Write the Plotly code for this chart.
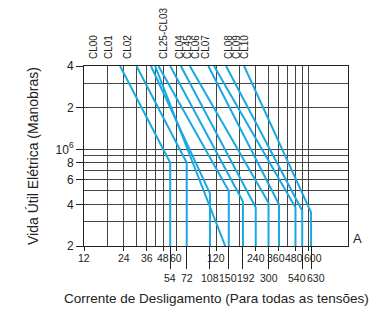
import math
import plotly.graph_objects as go

# ---- data ----
contactors = ["CL00", "CL01", "CL02", "CL25", "CL03", "CL04", "CL45", "CL06", "CL07", "CL08", "CL09", "CL10"]
top_current = [22.5, 30.0, 38.6, 41.5, 44.0, 54.0, 65.0, 76.0, 105.0, 116.0, 143.0, 196.0]   # A at 4x10^6
knee_current = [54, 72, 108, 141, 150, 192, 240, 300, 360, 480, 540, 630]
knee_life = [8e5, 8e5, 4.8e5, 2e5, 5e5, 4.2e5, 3.8e5, 4.1e5, 4.0e5, 3.8e5, 3.6e5, 3.5e5]

label_text = ["CL00", "CL01", "CL02", "CL25-CL03", "CL04", "CL45", "CL06", "CL07", "CL08", "CL09", "CL10"]

x_ticks_row1 = [12, 24, 36, 48, 60, 120, 240, 360, 480, 600]
x_ticks_row2 = [54, 72, 108, 150, 192, 300, 540, 630]
x_grid = [12, 18, 24, 30, 36, 42, 48, 60, 120, 180, 240, 300, 360, 420, 480, 540, 600]
y_ticks = [2e5, 4e5, 6e5, 8e5, 1e6, 2e6, 4e6]
y_ticktext = ["2", "4", "6", "8", "10<sup>6</sup>", "2", "4"]
y_grid = [2e5, 3e5, 4e5, 5e5, 6e5, 7e5, 8e5, 9e5, 1e6, 2e6, 3e6]

LIFE_TOP = 4e6
LIFE_BOTTOM = 2e5
X_MAX = 1200

# ---- style ----
BLUE = "#1aa8e2"
GRID = "#444444"
INK = "#222222"
FONT = "Liberation Sans, Arial, sans-serif"
TICK_FONT = 10.5
# horizontal nudges (px) so crowded tick labels sit side by side as in the original
nudge1 = {360: -2.7, 480: -1.4, 600: 5}
nudge2 = {150: -1, 192: 3.3, 540: -4.9, 630: 4.7}

fig = go.Figure()
for name, xt, xk, yk in zip(contactors, top_current, knee_current, knee_life):
    fig.add_trace(go.Scatter(
        x=[xt, xk, xk], y=[LIFE_TOP, yk, LIFE_BOTTOM], mode="lines", name=name,
        line=dict(color=BLUE, width=2), showlegend=False, hoverinfo="name"))

# invisible trace that activates the second x axis (long ticks of the second label row)
fig.add_trace(go.Scatter(x=[x_ticks_row2[0]], y=[LIFE_BOTTOM], xaxis="x2", mode="markers",
                         marker=dict(opacity=0), showlegend=False, hoverinfo="skip"))

xr = [math.log10(12), math.log10(X_MAX)]
yr = [math.log10(LIFE_BOTTOM), math.log10(LIFE_TOP)]

fig.update_layout(
    template="none",
    width=390, height=312,
    margin=dict(l=76, r=50, t=58, b=74, autoexpand=False),
    paper_bgcolor="white", plot_bgcolor="white",
    font=dict(family=FONT, size=12, color=INK),
    xaxis=dict(type="log", range=xr, tickmode="array", tickvals=x_ticks_row1,
               showticklabels=False,
               ticks="outside", ticklen=4, tickcolor=INK, tickwidth=1, showline=True, linecolor=INK,
               linewidth=1, mirror=True, showgrid=False, zeroline=False, automargin=False,
               minor=dict(tickmode="array", tickvals=x_grid, showgrid=True, gridcolor=GRID,
                          gridwidth=1, ticks="")),
    xaxis2=dict(type="log", range=xr, overlaying="x", anchor="y", side="bottom",
                tickmode="array", tickvals=x_ticks_row2, showticklabels=False,
                ticks="outside", ticklen=22, tickcolor=INK, tickwidth=1,
                showline=False, showgrid=False, zeroline=False, automargin=False),
    yaxis=dict(type="log", range=yr, tickmode="array", tickvals=y_ticks, ticktext=y_ticktext,
               ticks="outside", ticklen=7, tickcolor=INK, tickwidth=1, showline=True, linecolor=INK,
               linewidth=1, mirror=True, showgrid=False, zeroline=False, automargin=False,
               tickfont=dict(size=12),
               minor=dict(tickmode="array", tickvals=y_grid, showgrid=True, gridcolor=GRID,
                          gridwidth=1, ticks="")),
)

# tick labels of both rows (placed at their values on the log axis)
for v in x_ticks_row1:
    fig.add_annotation(text=str(v), xref="x", yref="paper", x=math.log10(v), y=0,
                       xshift=nudge1.get(v, 0), yshift=-12, xanchor="center", yanchor="middle",
                       showarrow=False, font=dict(size=TICK_FONT))
for v in x_ticks_row2:
    fig.add_annotation(text=str(v), xref="x", yref="paper", x=math.log10(v), y=0,
                       xshift=nudge2.get(v, 0), yshift=-32, xanchor="center", yanchor="middle",
                       showarrow=False, font=dict(size=TICK_FONT))

# axis titles
fig.add_annotation(text="Corrente de Desligamento (Para todas as tensões)", xref="paper",
                   yref="paper", x=0.5, y=0, yshift=-52, xanchor="center", yanchor="middle",
                   showarrow=False, font=dict(size=13.5))
fig.add_annotation(text="Vida Útil Elétrica (Manobras)", xref="paper", yref="paper",
                   x=0, y=0.5, xshift=-51, xanchor="center", yanchor="middle", textangle=-90,
                   showarrow=False, font=dict(size=14))

# contactor labels above the chart
label_px = [93, 108, 127, 163, 179, 187, 195, 205, 228, 236, 244]
for txt, px in zip(label_text, label_px):
    fig.add_annotation(text=txt, xref="paper", yref="paper", x=(px - 84) / 264, y=1,
                       yshift=5, xanchor="center", yanchor="bottom", textangle=-90,
                       showarrow=False, font=dict(size=10))

fig.add_annotation(text="A", xref="paper", yref="paper", x=1, y=0, xshift=3, yshift=-2,
                   xanchor="left", yanchor="bottom", showarrow=False, font=dict(size=13))

fig.write_html("out.html")
